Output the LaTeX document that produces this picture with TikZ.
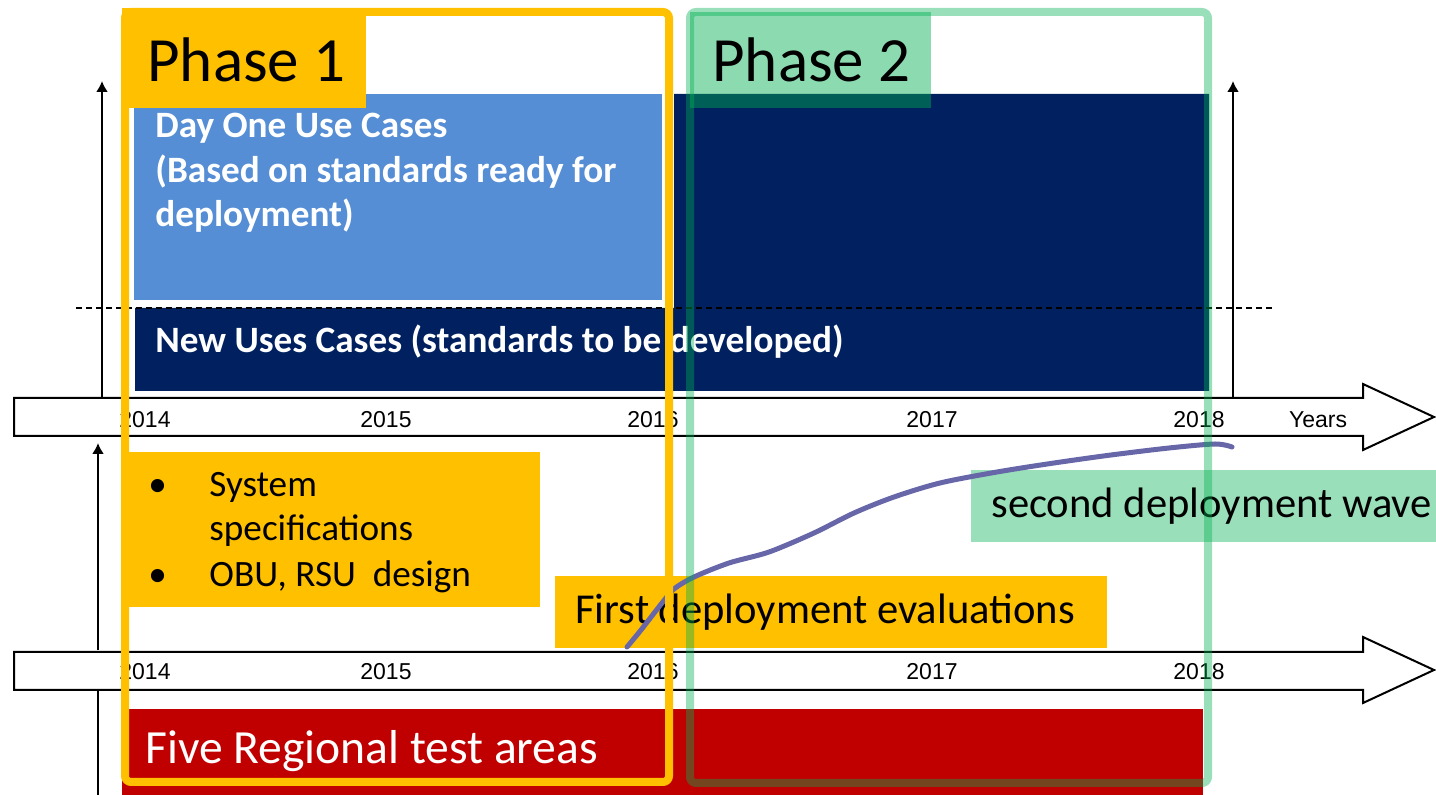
\documentclass[tikz,border=0pt]{standalone}
\usepackage{fontspec}
\setmainfont{Carlito}
\newfontfamily\arialfont{Liberation Sans}
\usepackage{xcolor}
\usetikzlibrary{positioning,arrows.meta}

\definecolor{phaseyellow}{RGB}{255,192,0}
\definecolor{phasegreen}{RGB}{0,176,80}
\definecolor{dayblue}{RGB}{85,142,213}
\definecolor{newnavy}{RGB}{0,32,96}
\definecolor{testred}{RGB}{192,0,0}
\definecolor{wavepurple}{RGB}{102,102,168}

\begin{document}
\begin{tikzpicture}[x=0.5pt,y=-0.5pt,
        yearlabel/.style={inner sep=0pt, font=\arialfont\fontsize{11.5}{14}\selectfont},
        phaselabel/.style={anchor=base west, inner sep=0pt, font=\fontsize{31.5}{38}\selectfont},
        usecase/.style={anchor=base west, inner sep=0pt, text=white, font=\bfseries\fontsize{18.6}{22}\selectfont},
        bullettext/.style={anchor=base west, inner sep=0pt, font=\fontsize{18.6}{22}\selectfont},
        wavelabel/.style={anchor=base west, inner sep=0pt, font=\fontsize{21.3}{25}\selectfont},
        axisarrow/.style={line width=1pt, -{Latex[length=5.5pt,width=6pt]}}]
        \useasboundingbox (0,0) rectangle (1436,795);

        %% The two time lines (block arrows)
        \draw [line width=1pt, fill=white] (14,398) -- (1363,398) -- (1363,384) -- (1434,417) -- (1363,450) -- (1363,436) -- (14,436) -- cycle;
        \draw [line width=1pt, fill=white] (14,652) -- (1363,652) -- (1363,637) -- (1434,670) -- (1363,703) -- (1363,690) -- (14,690) -- cycle;

        %% Year labels
        \node [yearlabel] (up-2014) at (145,420) {2014};
        \node [yearlabel] (up-2015) at (386,420) {2015};
        \node [yearlabel] (up-2016) at (653,420) {2016};
        \node [yearlabel] (up-2017) at (932,420) {2017};
        \node [yearlabel] (up-2018) at (1199,420) {2018};
        \node [yearlabel] (years) at (1318,420) {Years};
        \node [yearlabel] (low-2014) at (145,672) {2014};
        \node [yearlabel] (low-2015) at (386,672) {2015};
        \node [yearlabel] (low-2016) at (653,672) {2016};
        \node [yearlabel] (low-2017) at (932,672) {2017};
        \node [yearlabel] (low-2018) at (1199,672) {2018};

        %% Use case boxes
        \fill [dayblue] (134,94) rectangle (662,300);
        \fill [newnavy] (674,94) -- (1209,94) -- (1209,391) -- (135,391) -- (135,308) -- (674,308) -- cycle;
        \draw [line width=1pt, dash pattern=on 3pt off 2pt] (76,308) -- (1273,308);

        \node [usecase] (day-1) at (155,138) {Day One Use Cases};
        \node [usecase] (day-2) at (155,183) {(Based on standards ready for};
        \node [usecase] (day-3) at (155,227) {deployment)};
        \node [usecase] (new-uses) at (155,353) {New Uses Cases (standards to be developed)};

        %% Vertical axes
        \coordinate (up-left-foot) at (102,397);
        \coordinate (up-left-top) at (102,81);
        \coordinate (up-right-foot) at (1233,397);
        \coordinate (up-right-top) at (1233,81);
        \coordinate (low-left-foot) at (98,650);
        \coordinate (low-left-top) at (98,443);
        \coordinate (low-tail-top) at (98,690);
        \coordinate (low-tail-foot) at (98,800);
        \draw [axisarrow] (up-left-foot) -- (up-left-top);
        \draw [axisarrow] (up-right-foot) -- (up-right-top);
        \draw [axisarrow] (low-left-foot) -- (low-left-top);
        \draw [line width=0.6pt] (low-tail-top) -- (low-tail-foot);

        %% Test areas
        \fill [testred] (122,709) rectangle (1203,800);
        \node [wavelabel, text=white, font=\fontsize{23.8}{28}\selectfont] (test-areas) at (145,764) {Five Regional test areas};

        %% Specification box
        \fill [phaseyellow] (122,452) rectangle (540,607);
        \node [bullettext] (bul-1) at (148,497) {\textbullet};
        \node [bullettext] (spec-1) at (209,497) {System};
        \node [bullettext] (spec-2) at (209,541) {specifications};
        \node [bullettext] (bul-2) at (148,587) {\textbullet};
        \node [bullettext] (spec-3) at (209,587) {OBU, RSU\ \ design};

        %% Deployment waves
        \fill [phaseyellow] (555,576) rectangle (1107,648);
        \node [wavelabel] (first-wave) at (575,624) {First deployment evaluations};
        \fill [phasegreen, fill opacity=0.4] (971,470) rectangle (1440,542);
        \node [wavelabel] (second-wave) at (991,518) {second deployment wave};

        \draw [wavepurple, line width=2.5pt, line cap=round] plot [smooth, tension=0.5] coordinates {
            (627,647) (641,630) (662,603) (674,589) (694,577) (729,563) (769,552) (814,533)
            (854,513) (894,497) (940,483) (997,472) (1054,463) (1111,455) (1169,448)
            (1215,444) (1232,447)};

        %% Phase frames
        \draw [phaseyellow, line width=4pt, rounded corners=3pt] (125,12) rectangle (669,782);
        \draw [phasegreen, draw opacity=0.4, line width=4pt, rounded corners=3pt] (690,12) rectangle (1208,783);

        \fill [phaseyellow] (122,8) rectangle (366,108);
        \node [phaselabel] (phase-1) at (147,82) {Phase 1};
        \fill [phasegreen, fill opacity=0.45] (690,12) rectangle (931,108);
        \node [phaselabel] (phase-2) at (712,82) {Phase 2};
\end{tikzpicture}
\end{document}
